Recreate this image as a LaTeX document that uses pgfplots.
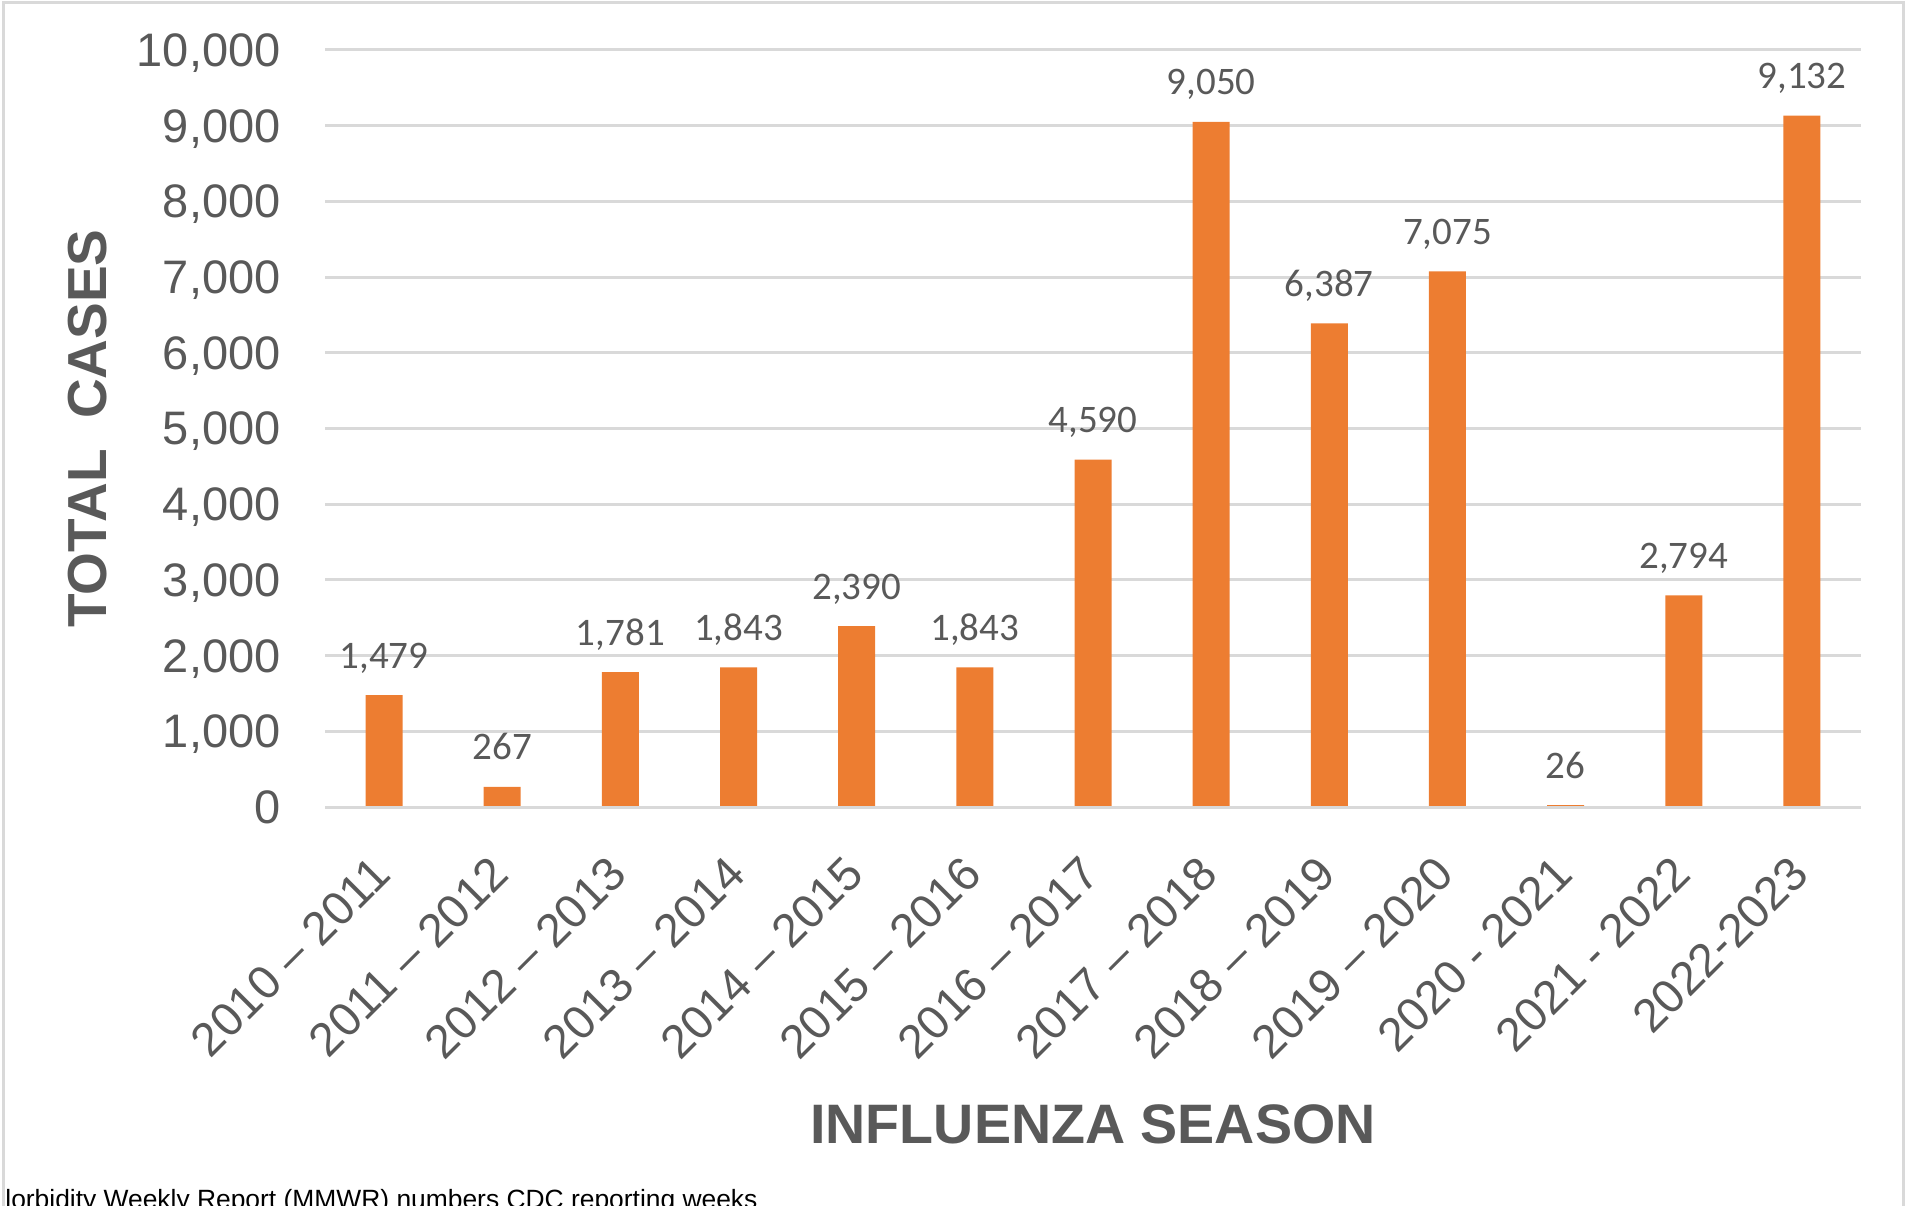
\documentclass[border=0pt]{standalone}
\usepackage{pgfplots}
\pgfplotsset{compat=1.18}
\usepackage{fontspec}
\setmainfont{Liberation Sans}
\newfontfamily\calibri{Carlito}
\definecolor{barorange}{HTML}{ED7D31}
\definecolor{txtgray}{HTML}{595959}
\definecolor{gridgray}{HTML}{D9D9D9}
\definecolor{framegray}{HTML}{D9D9D9}
\begin{document}
\begin{tikzpicture}
\useasboundingbox (0,0) rectangle (953bp,603bp);
\clip (0,0) rectangle (953bp,603bp);
\draw[framegray, line width=1.5bp] (1.5bp,-5bp) -- (1.5bp,601.5bp) -- (951.8bp,601.5bp) -- (951.8bp,-5bp);
\node[anchor=base west, inner sep=0pt, font=\fontsize{13.2bp}{15bp}\selectfont, text=black] at (2.5bp,-1bp) {lorbidity Weekly Report (MMWR) numbers CDC reporting weeks};
\begin{axis}[
  at={(162.5bp,199.5bp)}, anchor=south west,
  scale only axis, width=768bp, height=378.5bp,
  ybar, bar width=18.5bp,
  xmin=-0.5, xmax=12.5, ymin=0, ymax=10000,
  xtick={0,...,12},
  xticklabels={2010 – 2011, 2011 – 2012, 2012 – 2013, 2013 – 2014, 2014 – 2015, 2015 – 2016, 2016 – 2017, 2017 – 2018, 2018 – 2019, 2019 – 2020, 2020 - 2021, 2021 - 2022, 2022-2023},
  ytick={0,1000,...,10000},
  scaled y ticks=false,
  axis line style={draw=none},
  major tick length=0pt,
  ymajorgrids, grid style={gridgray, line width=1.5bp},
  /pgf/number format/assume math mode=true,
  /pgf/number format/.cd, 1000 sep={,}, fixed, precision=0,
  /pgfplots/.cd,
  yticklabel style={font=\fontsize{23.5bp}{26bp}\selectfont, text=txtgray, inner sep=0pt, text depth=0pt, anchor=east, xshift=-22bp},
  xticklabel style={font=\fontsize{23.5bp}{26bp}\selectfont, text=txtgray, rotate=45, anchor=east, inner sep=0pt, xshift=-1.5bp},
  xticklabel shift=28bp,
  nodes near coords,
  every node near coord/.append style={font=\calibri\fontsize{19.5bp}{22bp}\selectfont, text=txtgray, anchor=base, inner sep=0pt, yshift=13.5bp},
  xlabel={INFLUENZA SEASON},
  ylabel={TOTAL~~CASES},
  xlabel style={font=\bfseries\fontsize{27.8bp}{30bp}\selectfont, text=txtgray, at={(axis description cs:0.5,-0.41876)}, anchor=center},
  ylabel style={font=\bfseries\fontsize{27.5bp}{30bp}\selectfont, text=txtgray, at={(axis description cs:-0.15462,0.5)}, anchor=center, rotate=0},
  clip=false,
]
\addplot[fill=barorange, draw=none] coordinates {
(0,1479) (1,267) (2,1781) (3,1843) (4,2390) (5,1843) (6,4590) (7,9050) (8,6387) (9,7075) (10,26) (11,2794) (12,9132)
};
\draw[gridgray, line width=1.5bp] (axis cs:-0.5,0) -- (axis cs:12.5,0);
\end{axis}
\end{tikzpicture}
\end{document}
